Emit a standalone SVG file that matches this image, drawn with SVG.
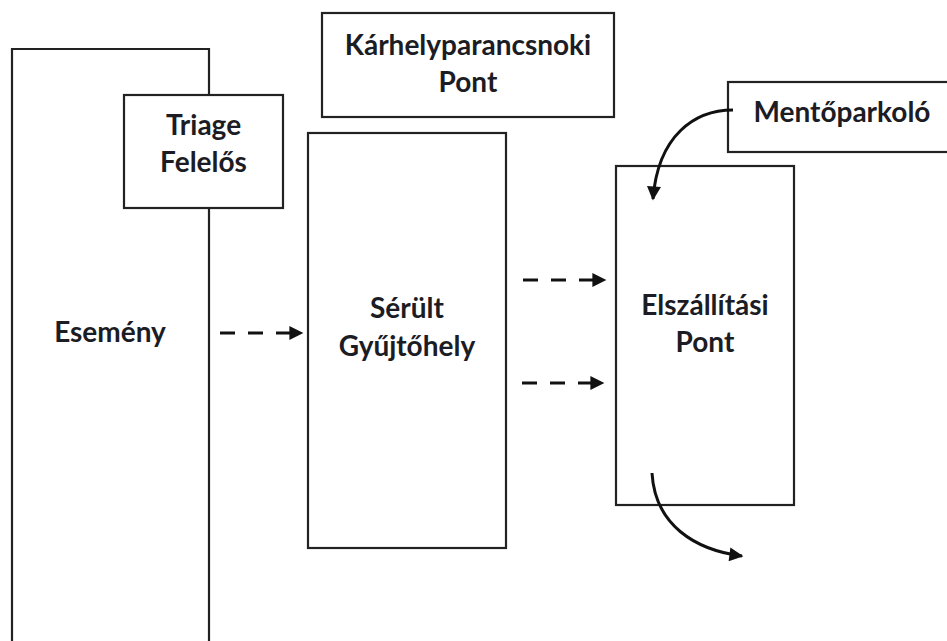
<svg xmlns="http://www.w3.org/2000/svg" width="947" height="641" viewBox="0 0 947 641">
  <style>
    .box { fill: #ffffff; stroke: #222222; stroke-width: 2.2; }
    .open { fill: none; stroke: #222222; stroke-width: 2.2; }
    .lbl { font-family: Lato, "Open Sans", "Liberation Sans", sans-serif; font-weight: 700; font-size: 28px; fill: #1c1c24; text-anchor: middle; }
    .dash { fill: none; stroke: #111111; stroke-width: 3; stroke-dasharray: 15 13; marker-end: url(#head); }
    .curve { fill: none; stroke: #111111; stroke-width: 3; marker-end: url(#head); }
  </style>
  <defs>
    <marker id="head" viewBox="0 0 10 10" refX="9" refY="5" markerUnits="userSpaceOnUse" markerWidth="15" markerHeight="14" orient="auto">
      <path d="M0,0 L10,5 L0,10 Z" fill="#111111"/>
    </marker>
  </defs>
  <rect width="947" height="641" fill="#ffffff"/>

  <!-- Esemény: tall frame running off the bottom edge -->
  <g id="esemeny">
    <path class="open" d="M12,643 V49 H209 V643"/>
    <text class="lbl" x="110" y="342">Esemény</text>
  </g>

  <!-- Triage Felelős sits across the right edge of Esemény -->
  <g id="triage">
    <rect class="box" x="124" y="95" width="159" height="113"/>
    <text class="lbl" x="203.5" y="135">Triage</text>
    <text class="lbl" x="203.5" y="172">Felelős</text>
  </g>

  <g id="karhely">
    <rect class="box" x="322" y="13" width="292" height="104"/>
    <text class="lbl" x="468" y="55">Kárhelyparancsnoki</text>
    <text class="lbl" x="468" y="92">Pont</text>
  </g>

  <g id="serult">
    <rect class="box" x="308" y="133" width="198" height="415"/>
    <text class="lbl" x="407" y="318">Sérült</text>
    <text class="lbl" x="407" y="356">Gyűjtőhely</text>
  </g>

  <g id="mentoparkolo">
    <rect class="box" x="728" y="82" width="230" height="70"/>
    <text class="lbl" x="842" y="122">Mentőparkoló</text>
  </g>

  <g id="elszallitasi">
    <rect class="box" x="616" y="166" width="178" height="339"/>
    <text class="lbl" x="705" y="315">Elszállítási</text>
    <text class="lbl" x="705" y="352">Pont</text>
  </g>

  <g id="connectors">
    <path class="dash" d="M220,333 H302"/>
    <path class="dash" d="M523,280 H605"/>
    <path class="dash" d="M522,383 H603"/>
    <path class="curve" d="M733,110 C695,110 658,135 653,199"/>
    <path class="curve" d="M652,473 C655,525 695,550 742,556"/>
  </g>
</svg>
